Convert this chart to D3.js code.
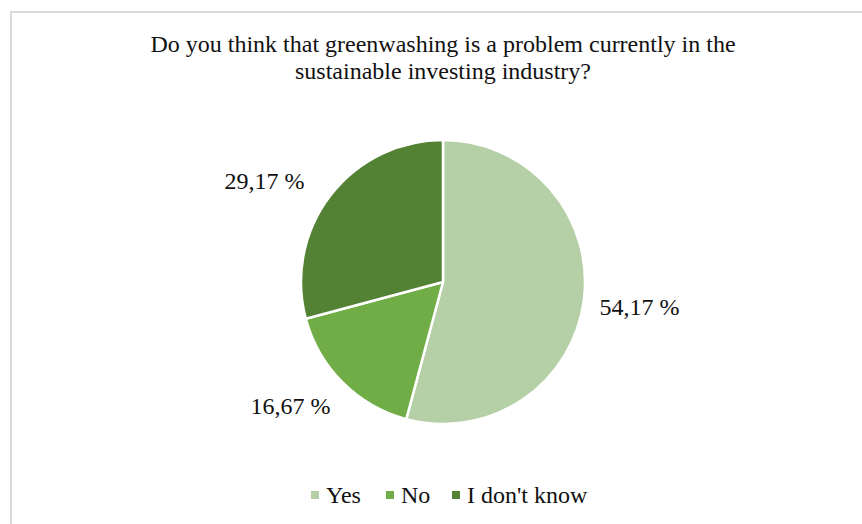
<!DOCTYPE html>
<html>
<head>
<meta charset="utf-8">
<script src="https://cdn.jsdelivr.net/npm/d3@7.9.0/dist/d3.min.js"></script>
<style>
  body { margin: 0; background: #fff; }
</style>
</head>
<body>
<svg id="chart"></svg>
<script>
const width = 862;
const height = 524;
const font = "'Liberation Serif', 'Times New Roman', serif";

const titleLines = ["Do you think that greenwashing is a problem currently in the",
                    "sustainable investing industry?"];
const categories = ["Yes", "No", "I don't know"];
const values = [54.17, 16.67, 29.17];
const colors = ["#b5cfa6", "#70ad47", "#548235"];

const svg = d3.select("#chart")
  .attr("width", width)
  .attr("height", height)
  .attr("font-family", font);

// chart frame (cut off right/bottom in the reference)
svg.append("rect")
  .attr("x", 11).attr("y", 12)
  .attr("width", 900).attr("height", 600)
  .attr("fill", "#fff")
  .attr("stroke", "#d9d9d9")
  .attr("stroke-width", 2);

svg.append("g")
  .selectAll("text")
  .data(titleLines)
  .join("text")
  .attr("x", 443)
  .attr("y", (d, i) => 52 + i * 27)
  .attr("text-anchor", "middle")
  .attr("font-size", 24)
  .attr("fill", "#111")
  .text(d => d);

const cx = 443, cy = 282, r = 142;
const data = categories.map((c, i) => ({ cat: c, value: values[i], color: colors[i] }));

const pie = d3.pie().sort(null).value(d => d.value);
const arc = d3.arc().innerRadius(0).outerRadius(r);
const arcs = pie(data);

const g = svg.append("g").attr("transform", `translate(${cx},${cy})`);
g.selectAll("path")
  .data(arcs)
  .join("path")
  .attr("d", arc)
  .attr("fill", d => d.data.color)
  .attr("stroke", "#fff")
  .attr("stroke-width", 2.5)
  .attr("stroke-linejoin", "round");

// data labels, outside end
const fmt = v => v.toFixed(2).replace(".", ",") + " %";
g.selectAll("text.lbl")
  .data(arcs)
  .join("text")
  .attr("class", "lbl")
  .each(function(d) {
    const a = (d.startAngle + d.endAngle) / 2;
    const x = Math.sin(a) * (r + 20);
    const y = -Math.cos(a) * (r + 30);
    const right = x > 0;
    let lx = right ? x - 4 : (y < 0 ? x - 10 : x + 2);
    d3.select(this)
      .attr("x", lx)
      .attr("y", y < 0 ? y + 3 : y + 2)
      .attr("dy", "0.35em")
      .attr("text-anchor", right ? "start" : "end");
  })
  .attr("font-size", 24)
  .attr("fill", "#111")
  .text(d => fmt(d.data.value));

// legend
const legendX = [311, 386, 452];
const lg = svg.append("g");
const item = lg.selectAll("g")
  .data(data)
  .join("g")
  .attr("transform", (d, i) => `translate(${legendX[i]},495)`);
item.append("rect")
  .attr("x", 0).attr("y", -4)
  .attr("width", 8).attr("height", 8)
  .attr("fill", d => d.color);
item.append("text")
  .attr("x", 15)
  .attr("dy", "0.33em")
  .attr("font-size", 24)
  .attr("fill", "#111")
  .text(d => d.cat);
</script>
</body>
</html>
